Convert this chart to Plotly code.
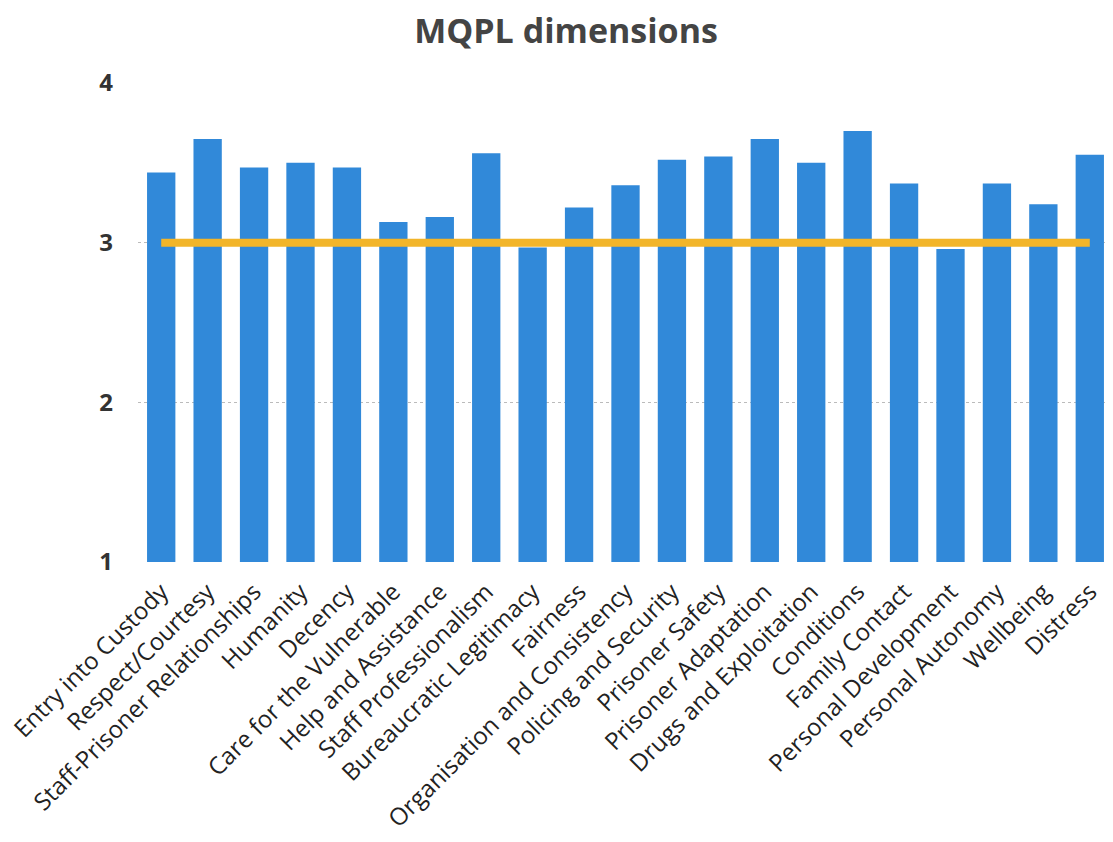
import plotly.graph_objects as go

categories = [
    "Entry into Custody", "Respect/Courtesy", "Staff-Prisoner Relationships",
    "Humanity", "Decency", "Care for the Vulnerable", "Help and Assistance",
    "Staff Professionalism", "Bureaucratic Legitimacy", "Fairness",
    "Organisation and Consistency", "Policing and Security", "Prisoner Safety",
    "Prisoner Adaptation", "Drugs and Exploitation", "Conditions",
    "Family Contact", "Personal Development", "Personal Autonomy",
    "Wellbeing", "Distress",
]
scores = [3.44, 3.65, 3.47, 3.50, 3.47, 3.13, 3.16, 3.56, 2.97, 3.22,
          3.36, 3.52, 3.54, 3.65, 3.50, 3.70, 3.37, 2.96, 3.37, 3.24, 3.55]
benchmark = [3.0] * len(categories)
y_ticks = [1, 2, 3, 4]

fig = go.Figure()
fig.add_trace(go.Bar(
    x=categories, y=scores, marker=dict(color="#3189D9", line=dict(width=0)),
    showlegend=False,
))
fig.add_trace(go.Scatter(
    x=categories, y=benchmark, mode="lines",
    line=dict(color="#F2B52A", width=8), showlegend=False,
))

fig.update_layout(
    width=1105, height=834,
    margin=dict(l=130, r=0, t=75, b=280, autoexpand=False),
    paper_bgcolor="white", plot_bgcolor="white",
    bargap=0.39,
    title=dict(text="<b>MQPL dimensions</b>", x=0.505, xanchor="center",
               y=0.972, yanchor="middle", yref="container",
               font=dict(family="Open Sans", size=34, color="#444444")),
    font=dict(family="Open Sans", color="#222222"),
)
fig.update_xaxes(
    tickangle=-45, tickfont=dict(size=24, color="#222222"),
    showgrid=False, showline=False, ticks="", automargin=False,
    ticklabelstandoff=10,
)
fig.update_yaxes(
    range=[1, 4], tickvals=y_ticks, ticktext=[f"<b>{v}</b>" for v in y_ticks],
    tickfont=dict(size=24, color="#333333"),
    showgrid=True, gridcolor="#BBBBBB", griddash="dot", gridwidth=1,
    zeroline=False, showline=False, ticklabelstandoff=24, automargin=False,
)

fig.write_html("out.html")
